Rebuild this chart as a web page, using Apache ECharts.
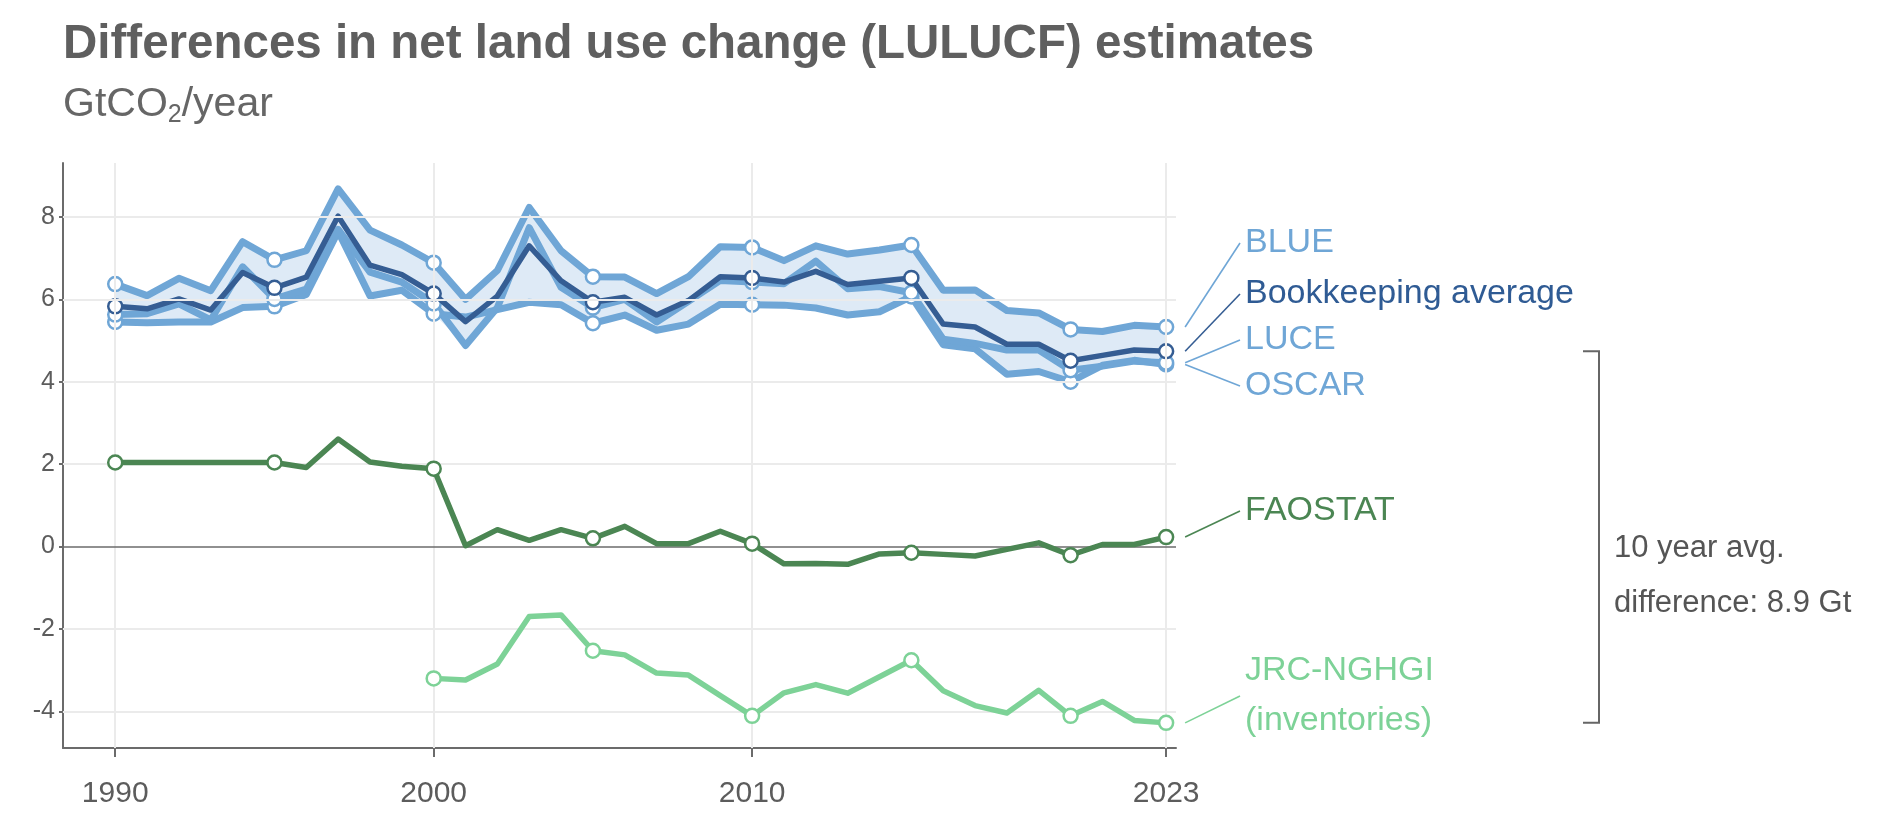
<!DOCTYPE html>
<html><head><meta charset="utf-8">
<script src="https://cdn.jsdelivr.net/npm/echarts@6/dist/echarts.min.js"></script>
<style>html,body{margin:0;padding:0;background:#fff}#c{width:1892px;height:827px}</style>
</head><body><div id="c"></div>
<script>
const years = [1990,1991,1992,1993,1994,1995,1996,1997,1998,1999,2000,2001,2002,2003,2004,2005,2006,2007,2008,2009,2010,2011,2012,2013,2014,2015,2016,2017,2018,2019,2020,2021,2022,2023];
const blue = [6.37,6.09,6.51,6.21,7.40,6.96,7.18,8.68,7.68,7.32,6.89,6.00,6.70,8.23,7.18,6.55,6.54,6.14,6.55,7.28,7.26,6.94,7.30,7.10,7.20,7.32,6.22,6.23,5.73,5.67,5.27,5.22,5.37,5.33];
const bookkeeping = [5.83,5.77,6.01,5.74,6.65,6.28,6.54,8.02,6.83,6.60,6.14,5.46,6.08,7.30,6.45,5.93,6.05,5.62,5.97,6.55,6.52,6.42,6.68,6.36,6.44,6.52,5.40,5.33,4.91,4.91,4.51,4.64,4.77,4.74];
const luce = [5.63,5.65,5.89,5.50,6.79,6.01,6.25,7.70,6.66,6.42,5.90,4.88,5.80,7.74,6.29,5.80,6.00,5.45,5.95,6.46,6.42,6.38,6.93,6.26,6.31,6.16,5.03,4.93,4.77,4.77,4.28,4.38,4.50,4.46];
const oscar = [5.45,5.43,5.45,5.45,5.80,5.83,6.12,7.65,6.08,6.22,5.65,5.57,5.75,5.93,5.87,5.42,5.62,5.25,5.40,5.88,5.87,5.86,5.79,5.62,5.70,6.07,4.90,4.80,4.18,4.25,4.00,4.40,4.52,4.42];
const faostat = [2.04,2.04,2.04,2.04,2.04,2.04,1.92,2.61,2.05,1.95,1.89,0.02,0.41,0.15,0.41,0.20,0.49,0.07,0.07,0.37,0.07,-0.42,-0.41,-0.43,-0.18,-0.15,-0.19,-0.23,-0.07,0.09,-0.21,0.05,0.05,0.23];
const jrcYears = [2000,2001,2002,2003,2004,2005,2006,2007,2008,2009,2010,2011,2012,2013,2014,2015,2016,2017,2018,2019,2020,2021,2022,2023];
const jrc = [-3.20,-3.24,-2.85,-1.70,-1.66,-2.53,-2.63,-3.07,-3.12,-3.62,-4.11,-3.55,-3.35,-3.56,-3.16,-2.76,-3.50,-3.86,-4.04,-3.49,-4.11,-3.76,-4.22,-4.28];
const markerYears = [1990,1995,2000,2005,2010,2015,2020,2023];
const xTickYears = [1990,2000,2010,2023];
const yTicks = [-4,-2,0,2,4,6,8];

const FONT = "'Liberation Sans', Arial, sans-serif";
const C = {light:'#6fa6d6', dark:'#355d93', darkText:'#2f5b94', fao:'#4b8653', jrc:'#7dd297', grid:'#ebebeb', axis:'#6b6b6b', text:'#5c5c5c', band:'rgba(111,166,214,0.23)'};

const pairs = (xs, ys) => xs.map((x,i)=>[x, ys[i]]);
const bandLow = years.map((y,i)=>Math.min(blue[i],luce[i],oscar[i]));
const bandHigh = years.map((y,i)=>Math.max(blue[i],luce[i],oscar[i]));

const chart = echarts.init(document.getElementById('c'), null, {renderer:'canvas'});

function lineSeries(name, xs, ys, color, width, z){
  return {
    name, type:'line', data: pairs(xs, ys), z,
    showAllSymbol: true,
    symbol: (v) => markerYears.includes(v[0]) ? 'circle' : 'none',
    symbolSize: 14,
    itemStyle: {color:'#fff', borderColor: color, borderWidth: 2.5},
    lineStyle: {color, width, join:'round'},
    emphasis: {disabled:true}, silent:true, animation:false
  };
}

const option = {
  animation: false,
  grid: {left: 63, right: 716, top: 163, bottom: 79, containLabel: false},
  xAxis: {
    type:'value', min: 1988.36, max: 2023.31,
    axisLine: {show:true, onZero:false, lineStyle:{color:C.axis, width:2}},
    axisTick: {show:true, length:9, lineStyle:{color:C.axis, width:2}, customValues: xTickYears},
    axisLabel: {customValues: xTickYears, color:C.text, fontSize:30, fontFamily:FONT, margin:31, formatter: v => String(v)},
    splitLine: {show:false}
  },
  yAxis: {
    type:'value', min: -4.89, max: 9.31,
    axisLine: {show:true, onZero:false, lineStyle:{color:C.axis, width:2}},
    axisTick: {show:true, length:4, lineStyle:{color:C.axis, width:2}, customValues: yTicks},
    axisLabel: {customValues: yTicks, color:C.text, fontSize:25, fontFamily:FONT, margin:8, formatter: v => String(v)},
    splitLine: {show:false}
  },
  series: [
    {
      type:'line', data: pairs(years, bandLow), symbol:'none', z:1,
      lineStyle:{opacity:0}, silent:true,
      markLine: {
        silent:true, symbol:['none','none'], label:{show:false}, animation:false,
        lineStyle:{color:C.grid, width:2, type:'solid'},
        data: [
          ...xTickYears.map(v=>({xAxis:v})),
          ...yTicks.filter(v=>v!==0).map(v=>({yAxis:v})),
          {yAxis:0, lineStyle:{color:C.axis, width:1.6}}
        ]
      }
    },
    {
      type:'custom', z:2, silent:true,
      data: years.map((y,i)=>[y, bandLow[i], bandHigh[i]]),
      encode: {x:0, y:[1,2]},
      renderItem: (params, api) => {
        if (params.dataIndex !== 0) return {type:'group', children:[]};
        const top = years.map((y,i)=>api.coord([y, bandHigh[i]]));
        const bot = years.map((y,i)=>api.coord([y, bandLow[i]])).reverse();
        return {type:'polygon', shape:{points: top.concat(bot)}, style:{fill:C.band}};
      }
    },
    lineSeries('OSCAR', years, oscar, C.light, 7, 3),
    lineSeries('LUCE', years, luce, C.light, 7, 3),
    lineSeries('BLUE', years, blue, C.light, 7, 3),
    lineSeries('Bookkeeping average', years, bookkeeping, C.dark, 5.5, 4),
    lineSeries('FAOSTAT', years, faostat, C.fao, 5.5, 5),
    lineSeries('JRC-NGHGI', jrcYears, jrc, C.jrc, 5.5, 5)
  ]
};
chart.setOption(option);

const last = years.length - 1;
const P = (x, y) => chart.convertToPixel({gridIndex:0}, [x, y]);
const endX = P(2023, 0)[0] + 19;
const labelX = 1240;
const labels = [
  {text:'BLUE', color:C.light, line:C.light, y:243, v: blue[last]},
  {text:'Bookkeeping average', color:C.darkText, line:C.dark, y:294, v: bookkeeping[last]},
  {text:'LUCE', color:C.light, line:C.light, y:340, v: luce[last]},
  {text:'OSCAR', color:C.light, line:C.light, y:386, v: oscar[last]},
  {text:'FAOSTAT', color:C.fao, line:C.fao, y:511, v: faostat[last]},
  {text:'JRC-NGHGI\n(inventories)', color:C.jrc, line:C.jrc, y:696, v: jrc[jrc.length-1]}
];
const graphics = [];
graphics.push({type:'text', left:63, top:21, style:{text:'Differences in net land use change (LULUCF) estimates', fill:'#5f5f5f', font:`bold 47.5px ${FONT}`}});
graphics.push({type:'text', left:63, top:84, style:{
  text:'{a|GtCO}{b|2}{a|/year}',
  rich:{a:{fontSize:41, lineHeight:46, fill:'#666', fontFamily:FONT}, b:{fontSize:25, lineHeight:16, verticalAlign:'bottom', fill:'#666', fontFamily:FONT}}
}});
labels.forEach(l=>{
  const sy = P(2023, l.v)[1];
  graphics.push({type:'line', silent:true, shape:{x1:endX, y1:sy, x2:labelX, y2:l.y}, style:{stroke:l.line, lineWidth:1.6}});
  graphics.push({type:'text', silent:true, x: labelX+5, y: l.y, style:{text:l.text, fill:l.color, font:`34px ${FONT}`, verticalAlign:'middle', lineHeight:50}});
});
const yTop = P(2023, bookkeeping[last])[1];
const yBot = P(2023, jrc[jrc.length-1])[1];
graphics.push({type:'polyline', silent:true, shape:{points:[[1583,yTop],[1599,yTop],[1599,yBot],[1583,yBot]]}, style:{stroke:'#666', lineWidth:2, fill:null}});
graphics.push({type:'text', silent:true, x:1614, y:(yTop+yBot)/2 + 39, style:{text:'10 year avg.\ndifference: 8.9 Gt', fill:'#555', font:`31px ${FONT}`, verticalAlign:'middle', lineHeight:55}});
chart.setOption({graphic: graphics});
</script>
</body></html>
